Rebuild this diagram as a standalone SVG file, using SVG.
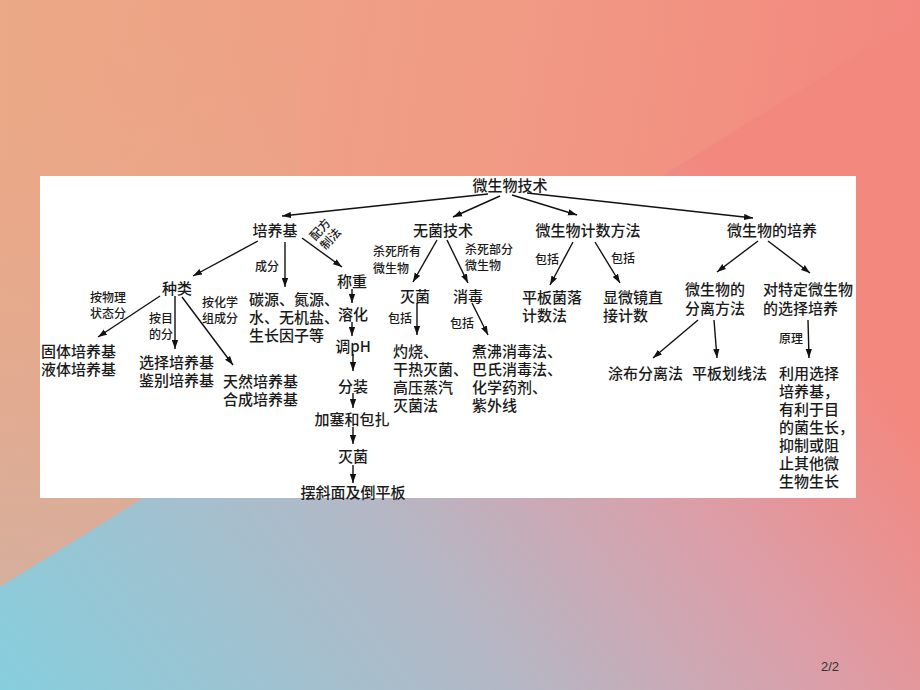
<svg xmlns="http://www.w3.org/2000/svg" width="920" height="690" viewBox="0 0 920 690">
<defs>
<linearGradient id="bgTop" gradientUnits="userSpaceOnUse" x1="0" y1="0" x2="920" y2="150">
<stop offset="0" stop-color="#eba987"/>
<stop offset="0.55" stop-color="#f19a84"/>
<stop offset="1" stop-color="#f3877f"/>
</linearGradient>
<linearGradient id="bgLeft" gradientUnits="userSpaceOnUse" x1="0" y1="0" x2="0" y2="600">
<stop offset="0" stop-color="#eba987" stop-opacity="0"/>
<stop offset="1" stop-color="#cfb2a4" stop-opacity="0.8"/>
</linearGradient>
<linearGradient id="bgLow" gradientUnits="userSpaceOnUse" x1="0" y1="690" x2="700" y2="150">
<stop offset="0" stop-color="#86cedd"/>
<stop offset="0.45" stop-color="#b3b8c6"/>
<stop offset="0.75" stop-color="#dc9ea8"/>
<stop offset="1" stop-color="#f3887f"/>
</linearGradient>
<marker id="ah" markerUnits="userSpaceOnUse" markerWidth="9" markerHeight="7" viewBox="0 0 10 7" refX="10" refY="3.5" orient="auto">
<path d="M0,0 L10,3.5 L0,7 z" fill="#111"/>
</marker>
<style>
text{font-family:"Noto Sans CJK SC","Liberation Serif",sans-serif;fill:#1a1a1a;dominant-baseline:central;}
.n{font-size:15px;font-weight:500;}
.s{font-size:12px;font-weight:500;}
.c{text-anchor:middle;}
.e line{stroke:#111;stroke-width:1.4;marker-end:url(#ah);}
</style>
</defs>
<rect x="0" y="0" width="920" height="690" fill="url(#bgTop)"/>
<rect x="0" y="0" width="300" height="690" fill="url(#bgLeft)"/>
<polygon points="0,587 920,16 920,690 0,690" fill="url(#bgLow)"/>
<rect x="40" y="176" width="816" height="322" fill="#ffffff"/>
<text x="830" y="666" style="font-family:'Liberation Sans',sans-serif;font-size:13px;fill:#333;text-anchor:middle">2/2</text>

<g id="connectors" class="e">
<line x1="488" y1="194" x2="282" y2="216"/>
<line x1="500" y1="196" x2="453" y2="217"/>
<line x1="512" y1="195" x2="577" y2="215"/>
<line x1="527" y1="193" x2="753" y2="218"/>
<line x1="258" y1="241" x2="193" y2="276"/>
<line x1="285" y1="242" x2="285" y2="287"/>
<line x1="302" y1="238" x2="342" y2="267"/>
<line x1="160" y1="296" x2="98" y2="337"/>
<line x1="175" y1="296" x2="175" y2="349"/>
<line x1="182" y1="297" x2="233" y2="365"/>
<line x1="352" y1="289" x2="352" y2="303"/>
<line x1="352" y1="322" x2="352" y2="336"/>
<line x1="353" y1="354" x2="353" y2="371"/>
<line x1="353" y1="393" x2="353" y2="408"/>
<line x1="353" y1="427" x2="353" y2="444"/>
<line x1="353" y1="465" x2="353" y2="483"/>
<line x1="437" y1="240" x2="413" y2="282"/>
<line x1="447" y1="240" x2="468" y2="283"/>
<line x1="417" y1="303" x2="417" y2="335"/>
<line x1="472" y1="303" x2="488" y2="335"/>
<line x1="573" y1="242" x2="550" y2="285"/>
<line x1="595" y1="242" x2="620" y2="283"/>
<line x1="758" y1="241" x2="717" y2="272"/>
<line x1="768" y1="241" x2="810" y2="273"/>
<line x1="698" y1="320" x2="653" y2="358"/>
<line x1="714" y1="320" x2="717" y2="358"/>
<line x1="808" y1="320" x2="809" y2="358"/>
</g>

<g id="labels">
<text class="s c" x="267" y="265">成分</text>
<g transform="translate(324,233) rotate(-48)"><text class="s c"><tspan x="0" y="-7">配方</tspan><tspan x="0" y="7">制法</tspan></text></g>
<text class="s c"><tspan x="108" y="296">按物理</tspan><tspan x="108" y="312">状态分</tspan></text>
<text class="s c"><tspan x="161" y="317">按目</tspan><tspan x="161" y="333">的分</tspan></text>
<text class="s c"><tspan x="220" y="301">按化学</tspan><tspan x="220" y="317">组成分</tspan></text>
<text class="s"><tspan x="373" y="250">杀死所有</tspan><tspan x="373" y="267">微生物</tspan></text>
<text class="s"><tspan x="465" y="248">杀死部分</tspan><tspan x="465" y="264">微生物</tspan></text>
<text class="s c" x="400" y="317">包括</text>
<text class="s c" x="462" y="322">包括</text>
<text class="s c" x="547" y="258">包括</text>
<text class="s c" x="623" y="257">包括</text>
<text class="s c" x="791" y="337">原理</text>
</g>

<g id="n-root"><text class="n c" x="510" y="184">微生物技术</text></g>
<g id="n-peiyangji"><text class="n c" x="275" y="229">培养基</text></g>
<g id="n-wujun"><text class="n c" x="443" y="229">无菌技术</text></g>
<g id="n-jishu"><text class="n c" x="588" y="229">微生物计数方法</text></g>
<g id="n-peiyang"><text class="n c" x="772" y="229">微生物的培养</text></g>
<g id="n-zhonglei"><text class="n c" x="177" y="287">种类</text></g>
<g id="n-chengfen"><text class="n"><tspan x="249" y="298">碳源、氮源、</tspan><tspan x="249" y="316">水、无机盐、</tspan><tspan x="249" y="334">生长因子等</tspan></text></g>
<g id="n-guti"><text class="n"><tspan x="41" y="350">固体培养基</tspan><tspan x="41" y="368">液体培养基</tspan></text></g>
<g id="n-xuanze"><text class="n"><tspan x="139" y="361">选择培养基</tspan><tspan x="139" y="379">鉴别培养基</tspan></text></g>
<g id="n-tianran"><text class="n"><tspan x="223" y="380">天然培养基</tspan><tspan x="223" y="398">合成培养基</tspan></text></g>
<g id="n-chengzhong"><text class="n c" x="352" y="280">称重</text></g>
<g id="n-ronghua"><text class="n c" x="353" y="313">溶化</text></g>
<g id="n-tiaoph"><text class="n c" x="353" y="345">调pH</text></g>
<g id="n-fenzhuang"><text class="n c" x="353" y="385">分装</text></g>
<g id="n-jiasai"><text class="n c" x="352" y="418">加塞和包扎</text></g>
<g id="n-miejun2"><text class="n c" x="353" y="455">灭菌</text></g>
<g id="n-baixie"><text class="n c" x="353" y="491">摆斜面及倒平板</text></g>
<g id="n-miejun"><text class="n c" x="415" y="295">灭菌</text></g>
<g id="n-xiaodu"><text class="n c" x="468" y="295">消毒</text></g>
<g id="n-zhuoshao"><text class="n"><tspan x="393" y="350">灼烧、</tspan><tspan x="393" y="368">干热灭菌、</tspan><tspan x="393" y="386">高压蒸汽</tspan><tspan x="393" y="404">灭菌法</tspan></text></g>
<g id="n-zhufei"><text class="n"><tspan x="472" y="350">煮沸消毒法、</tspan><tspan x="472" y="368">巴氏消毒法、</tspan><tspan x="472" y="386">化学药剂、</tspan><tspan x="472" y="404">紫外线</tspan></text></g>
<g id="n-pingban"><text class="n"><tspan x="522" y="296">平板菌落</tspan><tspan x="522" y="314">计数法</tspan></text></g>
<g id="n-xianwei"><text class="n"><tspan x="603" y="296">显微镜直</tspan><tspan x="603" y="314">接计数</tspan></text></g>
<g id="n-fenli"><text class="n"><tspan x="685" y="288">微生物的</tspan><tspan x="685" y="307">分离方法</tspan></text></g>
<g id="n-duite"><text class="n"><tspan x="763" y="288">对特定微生物</tspan><tspan x="763" y="307">的选择培养</tspan></text></g>
<g id="n-tubu"><text class="n" x="608" y="372">涂布分离法</text></g>
<g id="n-huaxian"><text class="n" x="692" y="372">平板划线法</text></g>
<g id="n-liyong"><text class="n"><tspan x="779" y="372">利用选择</tspan><tspan x="779" y="390">培养基，</tspan><tspan x="779" y="408">有利于目</tspan><tspan x="779" y="426">的菌生长，</tspan><tspan x="779" y="444">抑制或阻</tspan><tspan x="779" y="462">止其他微</tspan><tspan x="779" y="480">生物生长</tspan></text></g>
</svg>
